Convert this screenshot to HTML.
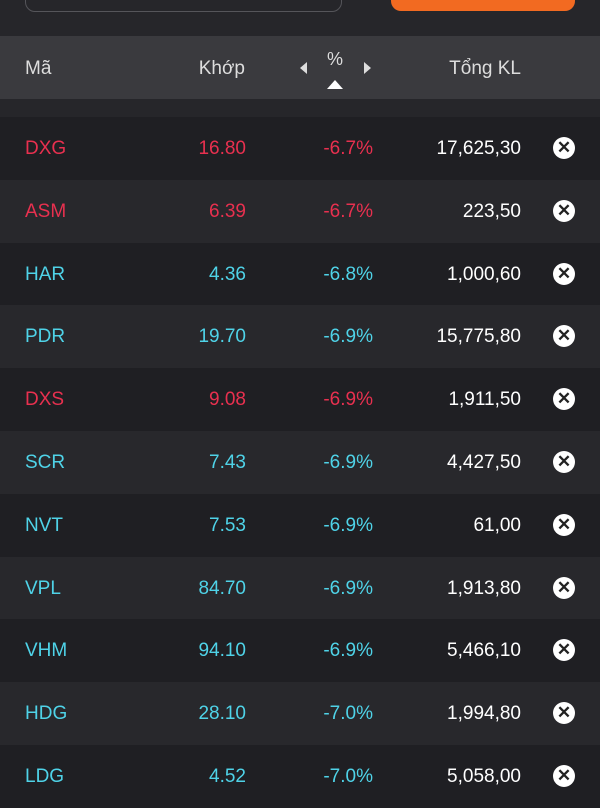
<!DOCTYPE html>
<html><head><meta charset="utf-8"><style>
body{margin:0;width:600px;height:800px;background:#26262a;font-family:"Liberation Sans",sans-serif;overflow:hidden;position:relative}
.a{position:absolute}
.row{position:absolute;left:0;width:600px;height:63px;font-size:19px}
.row span{position:absolute;top:21px}
.red{color:#e8304f}.cyan{color:#4fd3e8}
.x{position:absolute;left:553px;top:20px;width:22px;height:22px;border-radius:50%;background:#fff;color:#222;font-weight:bold;font-size:17px;line-height:22px;text-align:center}
</style></head><body>
<div class="a" style="left:25px;top:-20px;width:315px;height:30px;border:1px solid #55555a;border-radius:10px"></div>
<div class="a" style="left:391px;top:-20px;width:184px;height:31px;background:#f26a21;border-radius:10px"></div>
<div class="a" style="left:0;top:36px;width:600px;height:63px;background:#3a3a3e;color:#ddd;font-size:19px">
<span class="a" style="left:25px;top:22px">Mã</span>
<span class="a" style="right:355px;top:22px">Khớp</span>
<span class="a" style="left:300px;top:26px;width:0;height:0;border-top:6px solid transparent;border-bottom:6px solid transparent;border-right:7px solid #ddd"></span>
<span class="a" style="left:327px;top:13px;font-size:18px">%</span>
<span class="a" style="left:327px;top:44px;width:0;height:0;border-left:8px solid transparent;border-right:8px solid transparent;border-bottom:9px solid #fff"></span>
<span class="a" style="left:364px;top:26px;width:0;height:0;border-top:6px solid transparent;border-bottom:6px solid transparent;border-left:7px solid #ddd"></span>
<span class="a" style="right:79px;top:22px">Tổng KL</span>
</div>
<div id="rows"></div>
<script>
const codes=["DXG","ASM","HAR","PDR","DXS","SCR","NVT","VPL","VHM","HDG","LDG"];
const prices=["16.80","6.39","4.36","19.70","9.08","7.43","7.53","84.70","94.10","28.10","4.52"];
const pcts=["-6.7%","-6.7%","-6.8%","-6.9%","-6.9%","-6.9%","-6.9%","-6.9%","-6.9%","-7.0%","-7.0%"];
const vols=["17,625,30","223,50","1,000,60","15,775,80","1,911,50","4,427,50","61,00","1,913,80","5,466,10","1,994,80","5,058,00"];
const colors=["red","red","cyan","cyan","red","cyan","cyan","cyan","cyan","cyan","cyan"];
const c=document.getElementById('rows');
codes.forEach((code,i)=>{
 const r=document.createElement('div');
 r.className='row';
 
 
 r.style.top=(117+i*62.8)+'px';
 r.style.background=i%2?'#28282c':'#1f1f23';
 const cl=colors[i];
 r.innerHTML=`<span class="${cl}" style="left:25px">${code}</span><span class="${cl}" style="right:354px">${prices[i]}</span><span class="${cl}" style="right:227px">${pcts[i]}</span><span style="right:79px;color:#fff">${vols[i]}</span><div class="x">✕</div>`;
 c.appendChild(r);
});
</script>
</body></html>
